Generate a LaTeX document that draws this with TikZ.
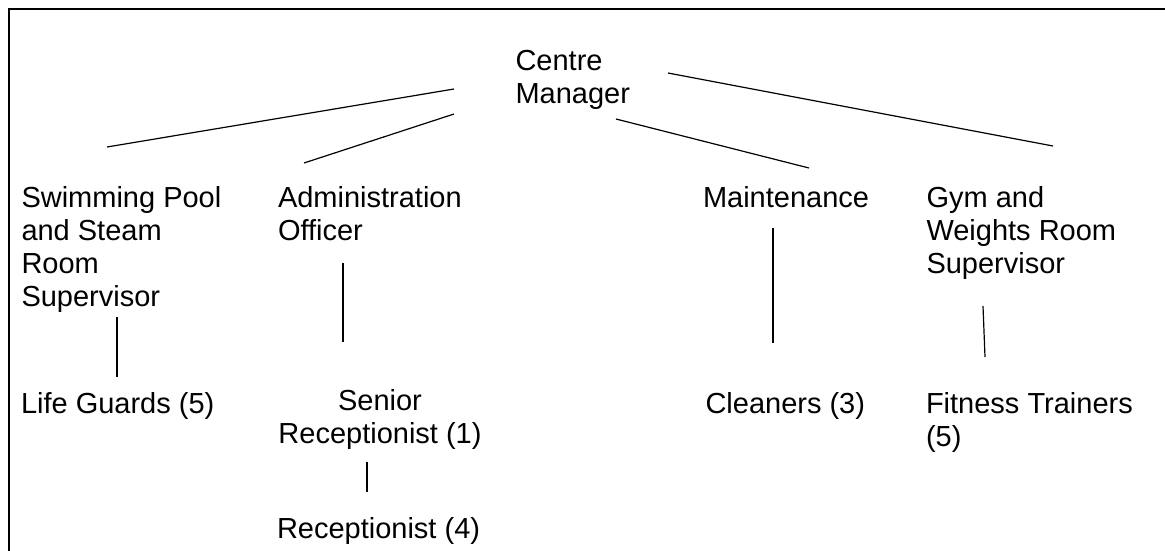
\documentclass[tikz,border=0pt]{standalone}
\usepackage{fontspec}
\setmainfont{Liberation Sans}
\begin{document}
\begin{tikzpicture}[x=1pt,y=-1pt,
  lbl/.style={inner sep=0pt, outer sep=0pt, anchor=base west, align=left, font=\fontsize{29}{33}\selectfont},
  lblc/.style={lbl, anchor=base, align=center},
  conn/.style={line width=1.2pt},
  frame/.style={line width=2pt}]
\useasboundingbox (0,0) rectangle (1165,550);
\draw[frame] (1170,9.3) -- (9.3,9.3) -- (9.3,555);

% base anchor of a multi-line node = baseline of its last line
\node[lbl] (cm) at (515.5,103) {Centre\\Manager};
\node[lbl] (sw) at (21.5,306) {Swimming Pool\\and Steam\\Room\\Supervisor};
\node[lbl] (ad) at (278,240) {Administration\\Officer};
\node[lbl] (mt) at (703,207) {Maintenance};
\node[lbl] (gy) at (926.5,273) {Gym and\\Weights Room\\Supervisor};
\node[lbl] (lg) at (21,413) {Life Guards (5)};
\node[lblc] (sr) at (380,443) {Senior\\Receptionist (1)};
\node[lbl] (rc) at (277,538) {Receptionist (4)};
\node[lbl] (cl) at (705.5,413) {Cleaners (3)};
\node[lbl] (ft) at (926,446) {Fitness Trainers\\(5)};

% connector end points
\coordinate (cm-sw) at (454,89);
\coordinate (cm-ad) at (454,114);
\coordinate (cm-mt) at (616,119);
\coordinate (cm-gy) at (668,73);
\coordinate (sw-in) at (107,147);
\coordinate (ad-in) at (304,163);
\coordinate (mt-in) at (809,168);
\coordinate (gy-in) at (1053,146);
\coordinate (sw-out) at (117,317);
\coordinate (lg-in) at (117,377);
\coordinate (ad-out) at (343,263);
\coordinate (sr-in) at (343,342);
\coordinate (sr-out) at (367,462);
\coordinate (rc-in) at (367,492);
\coordinate (mt-out) at (773,228);
\coordinate (cl-in) at (773,343);
\coordinate (gy-out) at (983,306);
\coordinate (ft-in) at (985,357);

\draw[conn] (cm-sw) -- (sw-in);
\draw[conn] (cm-ad) -- (ad-in);
\draw[conn] (cm-mt) -- (mt-in);
\draw[conn] (cm-gy) -- (gy-in);
\draw[conn] (sw-out) -- (lg-in);
\draw[conn] (ad-out) -- (sr-in);
\draw[conn] (sr-out) -- (rc-in);
\draw[conn] (mt-out) -- (cl-in);
\draw[conn] (gy-out) -- (ft-in);
\end{tikzpicture}
\end{document}
